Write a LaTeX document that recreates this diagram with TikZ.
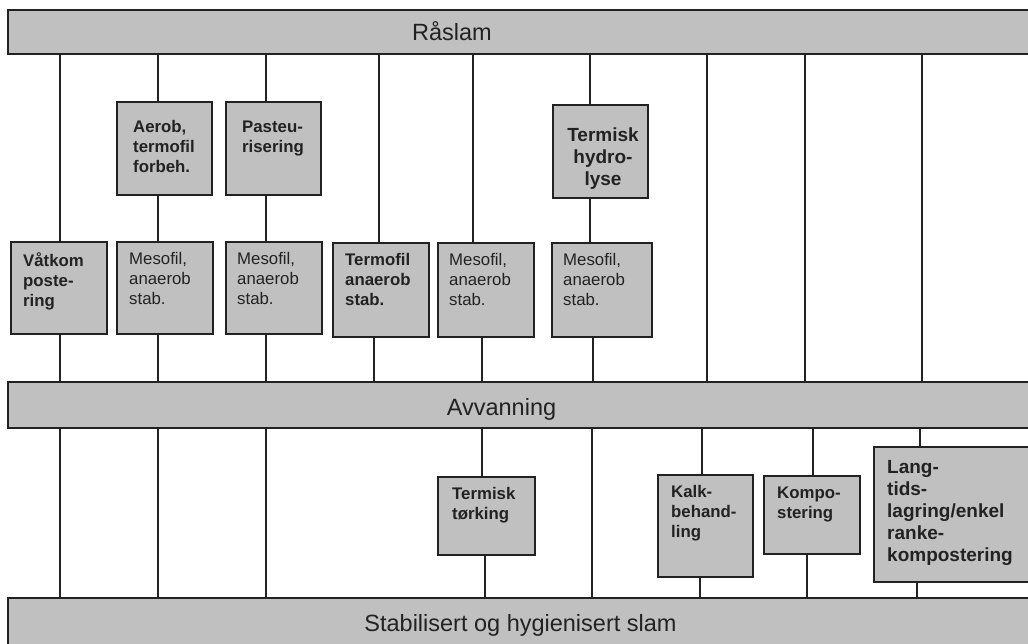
\documentclass[tikz,border=0pt]{standalone}
\usepackage{fontspec}
\setmainfont{Liberation Sans}
\definecolor{boxgray}{RGB}{192,192,192}
\definecolor{edge}{RGB}{34,34,34}
\tikzset{
  barbox/.style={draw=edge, line width=2pt, fill=boxgray, anchor=north west, inner sep=0pt, outer sep=0pt},
  stepbox/.style={draw=edge, line width=2pt, fill=boxgray, anchor=north west, inner sep=0pt, outer sep=0pt},
  barlabel/.style={anchor=base, inner sep=0pt, text=edge, font=\fontsize{23.5}{27}\selectfont},
  boxtext/.style={anchor=north west, inner sep=0pt, align=left, text=edge, font=\fontsize{16.8}{20}\selectfont},
  boldtext/.style={boxtext, font=\fontsize{16.8}{20}\selectfont\bfseries},
  bigtext/.style={boxtext, font=\fontsize{19}{22}\selectfont\bfseries},
  link/.style={draw=edge, line width=1.4pt}
}
\begin{document}
\begin{tikzpicture}[x=1pt,y=-1pt]
\useasboundingbox (0,0) rectangle (1028,643);
\clip (0,0) rectangle (1028,643);
\fill[white] (0,0) rectangle (1028,643);
% bars
\node[barbox, minimum width=1040pt, minimum height=44pt] (top) at (8,10) {};
\node[barbox, minimum width=1040pt, minimum height=46pt] (avv) at (8,382) {};
\node[barbox, minimum width=1040pt, minimum height=70pt] (bot) at (8,598) {};
\node[barlabel] (top-t) at (452,40) {Råslam};
\node[barlabel] (avv-t) at (501.5,415) {Avvanning};
\node[barlabel] (bot-t) at (520.5,631) {Stabilisert og hygienisert slam};
% upper boxes
\node[stepbox, minimum width=95pt, minimum height=93pt] (aerob) at (117,102) {};
\node[stepbox, minimum width=95pt, minimum height=93pt] (paste) at (226,102) {};
\node[stepbox, minimum width=95pt, minimum height=93pt] (hydro) at (553,105) {};
\node[boldtext] (aerob-t) at (133,120) {Aerob,\\termofil\\forbeh.};
\node[boldtext] (paste-t) at (242,121) {Pasteu-\\risering};
\node[bigtext, anchor=north, align=center] (hydro-t) at (603,128) {Termisk\\hydro-\\lyse};
% middle boxes
\node[stepbox, minimum width=96pt, minimum height=92pt] (vat) at (11,242) {};
\node[stepbox, minimum width=96pt, minimum height=92pt] (meso1) at (117,242) {};
\node[stepbox, minimum width=96pt, minimum height=92pt] (meso2) at (226,242) {};
\node[stepbox, minimum width=96pt, minimum height=94pt] (termo) at (333,243) {};
\node[stepbox, minimum width=96pt, minimum height=94pt] (meso3) at (438,243) {};
\node[stepbox, minimum width=100pt, minimum height=94pt] (meso4) at (552,243) {};
\node[boldtext] (vat-t) at (23,252) {Våtkom\\poste-\\ring};
\node[boxtext] (meso1-t) at (129,252) {Mesofil,\\anaerob\\stab.};
\node[boxtext] (meso2-t) at (237,252) {Mesofil,\\anaerob\\stab.};
\node[boldtext] (termo-t) at (345,253) {Termofil\\anaerob\\stab.};
\node[boxtext] (meso3-t) at (449,253) {Mesofil,\\anaerob\\stab.};
\node[boxtext] (meso4-t) at (563,253) {Mesofil,\\anaerob\\stab.};
% lower boxes
\node[stepbox, minimum width=97pt, minimum height=78pt] (tork) at (438,477) {};
\node[stepbox, minimum width=95pt, minimum height=102pt] (kalk) at (658,475) {};
\node[stepbox, minimum width=96pt, minimum height=78pt] (kompo) at (764,476) {};
\node[stepbox, minimum width=170pt, minimum height=135pt] (lang) at (874,447) {};
\node[boldtext] (tork-t) at (452,487) {Termisk\\tørking};
\node[boldtext] (kalk-t) at (671,485) {Kalk-\\behand-\\ling};
\node[boldtext] (kompo-t) at (777,487) {Kompo-\\stering};
\node[bigtext] (lang-t) at (887,460) {Lang-\\tids-\\lagring/enkel\\ranke-\\kompostering};
% connectors: top bar to boxes / dewatering
\draw[link] (top.south -| 60,0) -- (vat.north -| 60,0);
\draw[link] (vat.south -| 60,0) -- (avv.north -| 60,0);
\draw[link] (top.south -| 158,0) -- (aerob.north -| 158,0);
\draw[link] (aerob.south -| 158,0) -- (meso1.north -| 158,0);
\draw[link] (meso1.south -| 158,0) -- (avv.north -| 158,0);
\draw[link] (top.south -| 266,0) -- (paste.north -| 266,0);
\draw[link] (paste.south -| 266,0) -- (meso2.north -| 266,0);
\draw[link] (meso2.south -| 266,0) -- (avv.north -| 266,0);
\draw[link] (top.south -| 379,0) -- (termo.north -| 379,0);
\draw[link] (termo.south -| 374,0) -- (avv.north -| 374,0);
\draw[link] (top.south -| 473,0) -- (meso3.north -| 473,0);
\draw[link] (meso3.south -| 482,0) -- (avv.north -| 482,0);
\draw[link] (top.south -| 590,0) -- (hydro.north -| 590,0);
\draw[link] (hydro.south -| 590,0) -- (meso4.north -| 590,0);
\draw[link] (meso4.south -| 593,0) -- (avv.north -| 593,0);
\draw[link] (top.south -| 707,0) -- (avv.north -| 707,0);
\draw[link] (top.south -| 805,0) -- (avv.north -| 805,0);
\draw[link] (top.south -| 922,0) -- (avv.north -| 922,0);
% connectors: dewatering to final
\draw[link] (avv.south -| 60,0) -- (bot.north -| 60,0);
\draw[link] (avv.south -| 158,0) -- (bot.north -| 158,0);
\draw[link] (avv.south -| 266,0) -- (bot.north -| 266,0);
\draw[link] (avv.south -| 482,0) -- (tork.north -| 482,0);
\draw[link] (tork.south -| 485,0) -- (bot.north -| 485,0);
\draw[link] (avv.south -| 592,0) -- (bot.north -| 592,0);
\draw[link] (avv.south -| 702,0) -- (kalk.north -| 702,0);
\draw[link] (kalk.south -| 700,0) -- (bot.north -| 700,0);
\draw[link] (avv.south -| 813,0) -- (kompo.north -| 813,0);
\draw[link] (kompo.south -| 807,0) -- (bot.north -| 807,0);
\draw[link] (avv.south -| 920,0) -- (lang.north -| 920,0);
\draw[link] (lang.south -| 917,0) -- (bot.north -| 917,0);
\end{tikzpicture}
\end{document}
